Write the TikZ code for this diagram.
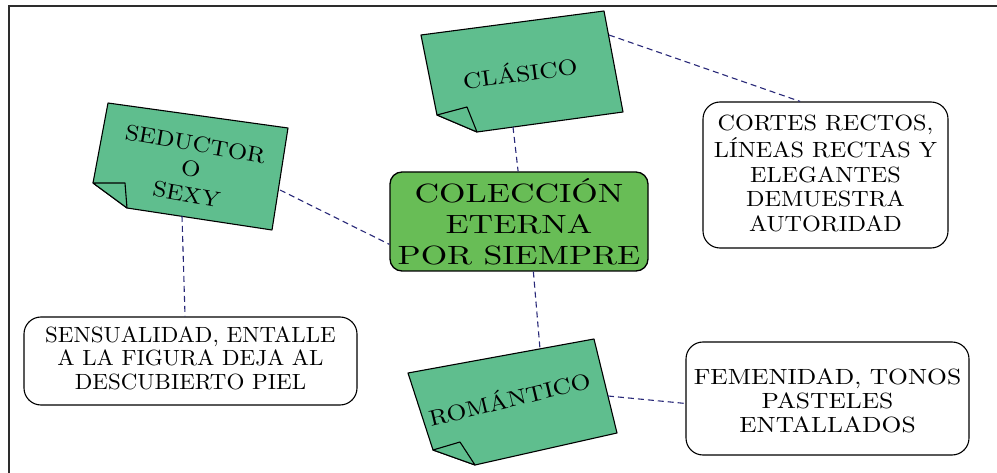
\documentclass[tikz,border=0pt]{standalone}
\usepackage{graphicx}
\definecolor{notegreen}{RGB}{95,190,142}
\definecolor{boxgreen}{RGB}{104,189,86}
\definecolor{linkblue}{RGB}{40,40,120}
\definecolor{framegray}{RGB}{45,45,45}
% #1 x scale, #2 y scale, #3 baselineskip (before scaling), #4 text
\newcommand\stx[4]{\scalebox{#1}[#2]{\fontsize{10}{#3}\selectfont\begin{tabular}{@{}c@{}}#4\end{tabular}}}
\tikzset{
  notebody/.style={fill=notegreen,draw=black,line width=1.1pt,line join=round},
  infobox/.style={draw=black,line width=1.1pt,rounded corners=17pt,fill=white,inner sep=0pt},
  hubbox/.style={draw=black,line width=1.3pt,rounded corners=12pt,fill=boxgreen,inner sep=0pt},
  plaintext/.style={inner sep=0pt},
  link/.style={draw=linkblue,line width=1.1pt,dash pattern=on 6pt off 4pt},
  frameline/.style={draw=framegray,line width=1.6pt}
}
\begin{document}
\begin{tikzpicture}[x=1pt,y=-1pt]
\useasboundingbox (0,0) rectangle (997,473);
% frame
\coordinate (frTR) at (997,6);
\coordinate (frTL) at (9,6);
\coordinate (frBL) at (9,473);
\draw[frameline] (frTR) -- (frTL) -- (frBL);

% CLASICO note
\coordinate (clTL) at (421,35);
\coordinate (clTR) at (604,11);
\coordinate (clBR) at (623,112);
\coordinate (clB) at (477,132);
\coordinate (clL) at (437,115);
\coordinate (clF) at (467,107);
\path[notebody] (clTL) -- (clTR) -- (clBR) -- (clB) -- (clL) -- cycle;
\path[notebody] (clL) -- (clF) -- (clB) -- cycle;
\node[plaintext,rotate=7.5] (clasico) at (520.3,75.5) {\stx{2.55}{2.2}{11}{CLÁSICO}};

% SEDUCTOR note
\coordinate (sdTL) at (108,103);
\coordinate (sdTR) at (288,128);
\coordinate (sdBR) at (272,230);
\coordinate (sdB) at (127,208);
\coordinate (sdL) at (93,183);
\coordinate (sdF) at (125,183);
\path[notebody] (sdTL) -- (sdTR) -- (sdBR) -- (sdB) -- (sdL) -- cycle;
\path[notebody] (sdL) -- (sdF) -- (sdB) -- cycle;
\node[plaintext,rotate=-10] (seductor) at (190.5,171.5) {\stx{2.48}{2.2}{11.6}{SEDUCTOR\\O\\SEXY}};

% ROMANTICO note
\coordinate (rmTL) at (408,373);
\coordinate (rmTR) at (594,339);
\coordinate (rmBR) at (617,433);
\coordinate (rmB) at (475,465);
\coordinate (rmL) at (433,450);
\coordinate (rmF) at (460,442);
\path[notebody] (rmTL) -- (rmTR) -- (rmBR) -- (rmB) -- (rmL) -- cycle;
\path[notebody] (rmL) -- (rmF) -- (rmB) -- cycle;
\node[plaintext,rotate=13.5] (romantico) at (510,401) {\stx{2.55}{2.2}{11}{ROMÁNTICO}};

% hub
\node[hubbox,minimum width=258pt,minimum height=99pt] (hub) at (519,221.5) {};
\node[plaintext,yshift=-4.5pt] (hubtext) at (hub.center)
  {\stx{3.4}{2.64}{11.65}{COLECCIÓN\\ETERNA\\POR SIEMPRE}};

% info boxes
\node[infobox,minimum width=245pt,minimum height=146pt] (cortes) at (825.5,175) {};
\node[plaintext,yshift=-1pt] (cortestext) at (cortes.center)
  {\stx{2.42}{2.2}{11.1}{CORTES RECTOS,\\LÍNEAS RECTAS Y\\ELEGANTES\\DEMUESTRA\\AUTORIDAD}};
\node[infobox,minimum width=333pt,minimum height=88pt] (sensual) at (190.5,361) {};
\node[plaintext] (sensualtext) at (sensual.center)
  {\stx{2.3}{2.2}{10.7}{SENSUALIDAD, ENTALLE\\A LA FIGURA DEJA AL\\DESCUBIERTO PIEL}};
\node[infobox,minimum width=283pt,minimum height=113pt] (femen) at (827.5,398.5) {};
\node[plaintext,yshift=-5.5pt] (fementext) at (femen.center)
  {\stx{2.55}{2.2}{10.9}{FEMENIDAD, TONOS\\PASTELES\\ENTALLADOS}};

% connector ends on notes
\coordinate (clR) at (609,35);
\coordinate (clBot) at (513,127);
\coordinate (sdR) at (280,190);
\coordinate (sdBot) at (182,216);
\coordinate (rmTop) at (540,349);
\coordinate (rmR) at (608,396);

% connectors
\draw[link] (clR) -- (cortes.109);
\draw[link] (clBot) -- (hub.91);
\draw[link] (sdR) -- (hub.190);
\draw[link] (sdBot) -- (sensual.97);
\draw[link] (hub.286) -- (rmTop);
\draw[link] (rmR) -- (femen.182);
\end{tikzpicture}
\end{document}
